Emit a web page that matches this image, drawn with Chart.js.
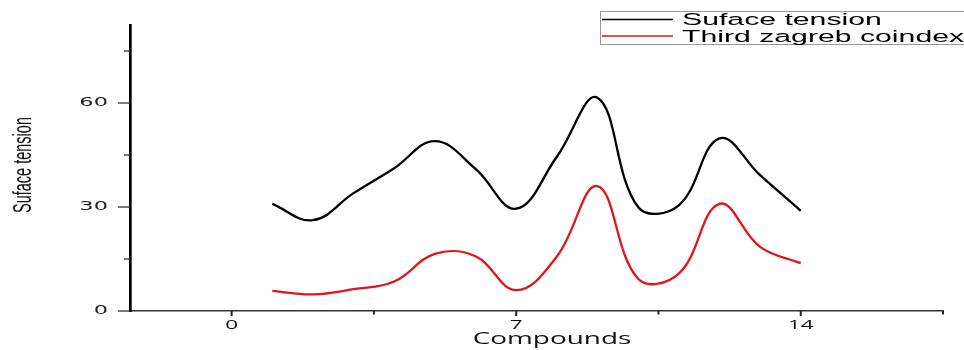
<!DOCTYPE html>
<html>
<head>
<meta charset="utf-8">
<title>Suface tension vs. third zagreb coindex</title>
<script src="https://cdn.jsdelivr.net/npm/chart.js@4.4.1/dist/chart.umd.min.js"></script>
<style>
  html, body { margin: 0; padding: 0; background: #fff; overflow: hidden; }
  #chart { display: block; }
</style>
</head>
<body>
<canvas id="chart" width="964" height="350"></canvas>
<script>
// Werte (Verbindung 1..14)
const COMPOUNDS       = [1, 2, 3, 4, 5, 6, 7, 8, 9, 10, 11, 12, 13, 14];
const SURFACE_TENSION = [30.9, 26.2, 34, 41.2, 49, 41, 29.5, 44.5, 61.5, 30, 30.5, 49.8, 39.2, 28.9];
const ZAGREB_COINDEX  = [5.8, 4.8, 6.3, 8.5, 16.5, 15.8, 6, 15.7, 36, 9.3, 10.8, 30.9, 18.5, 13.8];

const X_TICKS  = [0, 3.5, 7, 10.5, 14, 17.5];
const X_LABELS = [0, 7, 14];
const Y_TICKS  = [0, 15, 30, 45, 60, 75];
const Y_LABELS = [0, 30, 60];

const X_TITLE = 'Compounds';
const Y_TITLE = 'Suface tension';

const BLACK = '#000000';
const RED   = '#e0161b';

// Schrift im Original ist horizontal gestreckt
const STRETCH = 1.8;

const toPoints = ys => COMPOUNDS.map((x, i) => ({ x, y: ys[i] }));

function wideText(ctx, text, x, y, font, { align = 'left', baseline = 'middle', rotate = 0, color = '#111' } = {}) {
  ctx.save();
  ctx.translate(x, y);
  ctx.scale(STRETCH, 1);
  if (rotate) ctx.rotate(rotate);
  ctx.font = font;
  ctx.fillStyle = color;
  ctx.textAlign = align;
  ctx.textBaseline = baseline;
  ctx.fillText(text, 0, 0);
  ctx.restore();
}

// Tickmarken (Haupt-Ticks länger) plus gestreckte Beschriftungen
const axisDecor = {
  id: 'axisDecor',
  afterDraw(chart) {
    const { ctx, chartArea, scales: { x, y } } = chart;
    ctx.save();
    ctx.strokeStyle = '#222';
    for (const v of X_TICKS) {
      const px = x.getPixelForValue(v);
      const major = X_LABELS.includes(v);
      ctx.lineWidth = 2;
      ctx.beginPath();
      ctx.moveTo(px, chartArea.bottom);
      ctx.lineTo(px, chartArea.bottom + (major ? 5 : 3.5));
      ctx.stroke();
      if (major) wideText(ctx, String(v), px, 325.5, '12.5px "Open Sans", sans-serif', { align: 'center' });
    }
    for (const v of Y_TICKS) {
      const py = y.getPixelForValue(v);
      const major = Y_LABELS.includes(v);
      ctx.lineWidth = 1.2;
      ctx.beginPath();
      ctx.moveTo(chartArea.left - (major ? 12 : 6), py);
      ctx.lineTo(chartArea.left, py);
      ctx.stroke();
      if (major) wideText(ctx, String(v), 108, py, '12.5px "DejaVu Sans", sans-serif', { align: 'right', color: '#222' });
    }
    ctx.restore();

    wideText(ctx, X_TITLE, 552, 340, '15.5px "Open Sans", sans-serif', { align: 'center' });
    wideText(ctx, Y_TITLE, 24, 165, '14.5px "Liberation Sans", Arial, sans-serif', { align: 'center', rotate: -Math.PI / 2 });
  },
};

// Legende oben rechts im Kasten, wie im Original (ragt über den Rand)
const boxLegend = {
  id: 'boxLegend',
  afterDraw(chart) {
    const { ctx } = chart;
    const left = 600.5, top = 11.5, bottom = 44.5;
    ctx.save();
    ctx.fillStyle = '#fff';
    ctx.fillRect(left, top, chart.width - left + 2, bottom - top);
    ctx.strokeStyle = '#999';
    ctx.lineWidth = 1;
    ctx.strokeRect(left, top, chart.width - left + 2, bottom - top);
    const rows = [19.5, 36];
    chart.data.datasets.forEach((ds, i) => {
      const yy = rows[i];
      ctx.strokeStyle = ds.borderColor;
      ctx.lineWidth = 1.5;
      ctx.beginPath();
      ctx.moveTo(602, yy);
      ctx.lineTo(673, yy);
      ctx.stroke();
      wideText(ctx, ds.label, 682, yy + 1, '16.8px "Liberation Sans", Arial, sans-serif', { color: '#000' });
    });
    ctx.restore();
  },
};

new Chart(document.getElementById('chart'), {
  type: 'line',
  data: {
    datasets: [
      {
        label: 'Suface tension',
        data: toPoints(SURFACE_TENSION),
        borderColor: BLACK,
        borderWidth: 2.3,
        pointRadius: 0,
        tension: 0.4,
        fill: false,
      },
      {
        label: 'Third zagreb coindex',
        data: toPoints(ZAGREB_COINDEX),
        borderColor: RED,
        borderWidth: 2.3,
        pointRadius: 0,
        tension: 0.4,
        fill: false,
      },
    ],
  },
  options: {
    responsive: false,
    animation: false,
    devicePixelRatio: 1,
    layout: { padding: { left: 0, right: 21, top: 25, bottom: 0 } },
    plugins: {
      legend: { display: false },
      tooltip: { enabled: false },
    },
    scales: {
      x: {
        type: 'linear',
        min: -2.5,
        max: 17.5,
        afterBuildTicks: s => { s.ticks = X_TICKS.map(value => ({ value })); },
        afterFit: s => { s.height = 39; },
        grid: { display: false, drawTicks: false },
        border: { display: true, color: '#333', width: 1.5 },
        ticks: { display: false },
      },
      y: {
        type: 'linear',
        min: 0,
        max: 82.5,
        afterBuildTicks: s => { s.ticks = Y_TICKS.map(value => ({ value })); },
        afterFit: s => { s.width = 130; },
        grid: { display: false, drawTicks: false },
        border: { display: true, color: '#000', width: 2.7 },
        ticks: { display: false },
      },
    },
  },
  plugins: [axisDecor, boxLegend],
});
</script>
</body>
</html>
